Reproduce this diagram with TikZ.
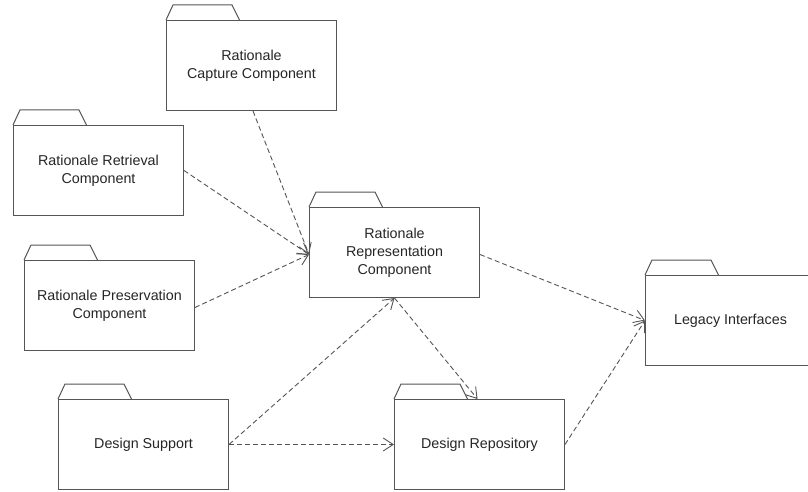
\documentclass[tikz,border=0pt]{standalone}
\usepackage{fontspec}
\setmainfont{Liberation Sans}
\usetikzlibrary{arrows.meta}
\definecolor{boxline}{HTML}{555555}
\definecolor{depline}{HTML}{555555}
\definecolor{txt}{HTML}{262626}
\tikzset{
  pkg/.style={draw=boxline, line width=1pt, rectangle, minimum width=170pt, minimum height=90pt,
    inner sep=0pt, align=center, text=txt, font=\fontsize{14.3}{18}\selectfont, fill=white},
  tabline/.style={draw=boxline, line width=1pt},
  dep/.style={draw=depline, line width=0.9pt, dash pattern=on 5pt off 3pt,
    -{Straight Barb[length=10pt,width=13pt,line width=0.9pt]}}
}
\newcommand{\pkgtab}[1]{\draw[tabline] (#1.north west) -- ++(7,-15) -- ++(59,0) -- ++(7.5,15);}
\begin{document}
\begin{tikzpicture}[x=1pt,y=-1pt]
\useasboundingbox (0,0) rectangle (808,492);
\clip (0,0) rectangle (808,492);
\fill[white] (0,0) rectangle (808,492);

\node[pkg] (cap) at (251.5,65.5) {Rationale\\Capture Component};
\node[pkg] (ret) at (98.5,170.5) {Rationale Retrieval\\Component};
\node[pkg] (pres) at (109.5,305.5) {Rationale Preservation\\Component};
\node[pkg] (rep) at (394.5,252.5) {Rationale\\Representation\\Component};
\node[pkg] (leg) at (730.5,320.5) {Legacy Interfaces};
\node[pkg] (ds) at (143.5,444.5) {Design Support};
\node[pkg] (repo) at (479.5,444.5) {Design Repository};

\pkgtab{cap}
\pkgtab{ret}
\pkgtab{pres}
\pkgtab{rep}
\pkgtab{leg}
\pkgtab{ds}
\pkgtab{repo}

\draw[dep] ([xshift=1.5pt]cap.south) -- ([yshift=-2pt]rep.west);
\draw[dep] (ret.east) -- ([yshift=-2pt]rep.west);
\draw[dep] ([yshift=-2pt]pres.east) -- ([yshift=-2pt]rep.west);
\draw[dep] (ds.east) -- (rep.south);
\draw[dep] (ds.east) -- (repo.west);
\draw[dep] (rep.south) -- ([xshift=-2pt]repo.north);
\draw[dep] ([yshift=-2pt]rep.east) -- (leg.west);
\draw[dep] (repo.east) -- (leg.west);
\end{tikzpicture}
\end{document}
